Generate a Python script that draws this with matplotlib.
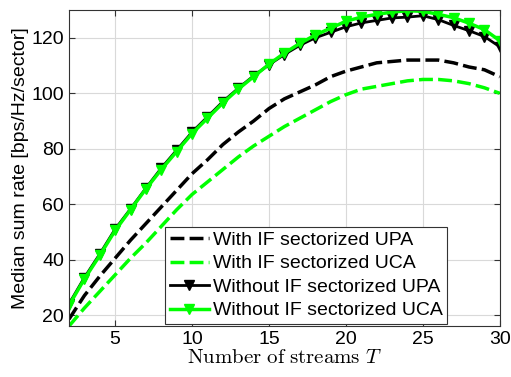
import matplotlib
matplotlib.use('Agg')
import matplotlib.pyplot as plt

# number of streams
T = list(range(2, 31))

with_if_upa = [18.5, 27, 34, 40.5, 47, 53, 59, 65, 71, 76, 81.5, 86, 90, 94.5, 98,
               100.5, 103, 106, 108, 109.5, 111, 111.5, 112, 112, 112, 111, 109.5, 108.5, 106]
with_if_uca = [16, 22.5, 28.5, 34.5, 40.5, 46, 52, 58, 63.5, 68, 72.5, 77, 81, 84.5, 88,
               91, 94, 97, 99.5, 101.5, 102.5, 103.5, 104.5, 105, 105, 104.5, 103.5, 102, 100]
without_if_upa = [24, 33.5, 42, 51, 58.3, 65.8, 73, 79.5, 86, 91.5, 97, 101.8, 106.3, 110.3, 114,
                  117.3, 120, 122, 124, 125.4, 126.3, 127.2, 127.5, 128, 126.6, 124.5, 122.6, 120.5, 116.8]
without_if_uca = [23.5, 33, 41.5, 50.5, 58, 65.5, 72.5, 79, 85.5, 91, 96.5, 101.5, 106, 110.5, 114.5,
                  118, 121, 123.5, 126, 127.5, 128.5, 129.3, 129.8, 129.6, 128.5, 127.3, 125.3, 123, 119]

labels = ['With IF sectorized UPA', 'With IF sectorized UCA',
          'Without IF sectorized UPA', 'Without IF sectorized UCA']

plt.rcParams['font.family'] = ['Liberation Sans', 'DejaVu Sans']
plt.rcParams['mathtext.fontset'] = 'cm'

green = (0, 1, 0)

fig = plt.figure(figsize=(5.11, 3.77), dpi=100)
ax = fig.add_axes([0.135, 0.135, 0.843, 0.838])

ax.plot(T, with_if_upa, color='k', lw=2.5, dashes=(4, 1.5), label=labels[0])
ax.plot(T, with_if_uca, color=green, lw=2.5, dashes=(4, 1.5), label=labels[1])
ax.plot(T, without_if_upa, color='k', lw=2, marker='v', ms=7, label=labels[2])
ax.plot(T, without_if_uca, color=green, lw=2.5, marker='v', ms=7, label=labels[3])

ax.set_xlim(2, 30)
ax.set_ylim(16, 130)
ax.set_xticks([5, 10, 15, 20, 25, 30])
ax.set_yticks([20, 40, 60, 80, 100, 120])
ax.grid(True, color='#d9d9d9', lw=0.8)
ax.tick_params(direction='in', top=True, right=True, labelsize=14, length=4,
               color='#333333')
for s in ax.spines.values():
    s.set_color('#333333')
    s.set_linewidth(0.8)

ax.set_xlabel(r'$\mathrm{Number\ of\ streams}\ T$', fontsize=15, labelpad=0)
ax.set_ylabel('Median sum rate [bps/Hz/sector]', fontsize=14, labelpad=2)

leg = ax.legend(loc='lower left', bbox_to_anchor=(0.223, 0.006), borderaxespad=0,
                fontsize=14, fancybox=False, framealpha=1, edgecolor='#333333',
                handlelength=2.0, handletextpad=0.2, labelspacing=0.3,
                borderpad=0.25)
leg.get_frame().set_linewidth(0.8)

fig.savefig('out.png', dpi=100)
